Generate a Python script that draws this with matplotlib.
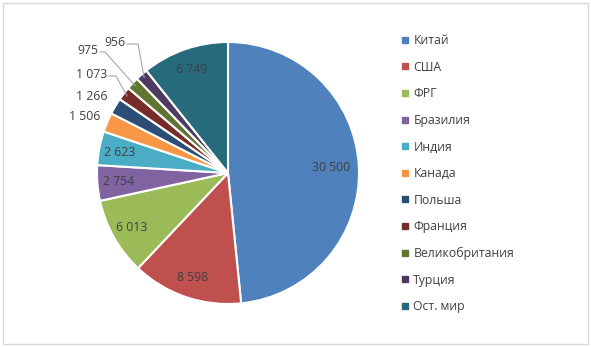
import numpy as np
import matplotlib
matplotlib.use('Agg')
from matplotlib import pyplot as plt
from matplotlib.lines import Line2D
from matplotlib.patches import Rectangle

plt.rcParams['font.family'] = ['Open Sans', 'DejaVu Sans']

countries = ['Китай', 'США', 'ФРГ', 'Бразилия', 'Индия', 'Канада',
             'Польша', 'Франция', 'Великобритания', 'Турция', 'Ост. мир']
values = [30500, 8598, 6013, 2754, 2623, 1506, 1266, 1073, 975, 956, 6749]
colors = ['#4F81BD', '#C0504D', '#9BBB59', '#8064A2', '#4BACC6', '#F79646',
          '#2C4D75', '#772C2A', '#5F7530', '#4D3B62', '#276A7C']
labels = ['{:,}'.format(v).replace(',', ' ') for v in values]

W, H = 591, 347
fig = plt.figure(figsize=(W/100, H/100), dpi=100)
# chart area border
fig.patches.append(Rectangle((3/W, 3/H), 1-6/W, 1-6/H, transform=fig.transFigure,
                             fill=False, edgecolor='#d9d9d9', linewidth=1))

cx, cy, r = 228, 173, 131
ax = fig.add_axes([(cx-r)/W, (H-cy-r)/H, 2*r/W, 2*r/H])
wedges, _ = ax.pie(values, colors=colors, startangle=90, counterclock=False,
                   wedgeprops=dict(edgecolor='white', linewidth=1.5))
ax.set_xlim(-1, 1)
ax.set_ylim(-1, 1)
ax.set_aspect('auto')

def px2data(px, py):
    return (px-cx)/r, (cy-py)/r

txtc = '#404040'
fs = 8.8
# outer labels: right end of text (px), y (px), elbow length (px) or None
outer = {5: (100, 117, None), 6: (107, 96, None), 7: (107, 75, 7),
         8: (98, 51, 5), 9: (125, 43, 11)}
for i, w in enumerate(wedges):
    mid = np.deg2rad((w.theta1 + w.theta2) / 2)
    if i in outer:
        tx, ty, elbow = outer[i]
        xt, yt = px2data(tx, ty)
        ax.text(xt, yt, labels[i], ha='right', va='center', fontsize=fs, color=txtc)
        if elbow:
            x0, y0 = px2data(tx + 2, ty + 1)
            x1, y1 = px2data(tx + 2 + elbow, ty + 1)
            ax.plot([x0, x1, np.cos(mid)*0.97], [y0, y1, np.sin(mid)*0.97],
                    color='#a6a6a6', lw=0.8)
    else:
        d = 0.79 if i == 0 else 0.84
        ax.text(np.cos(mid)*d, np.sin(mid)*d, labels[i], ha='center', va='center',
                fontsize=fs, color=txtc)

handles = [Line2D([], [], marker='s', linestyle='none', markersize=4.5,
                  markerfacecolor=c, markeredgecolor=c) for c in colors]
fig.legend(handles, countries, loc='upper left', bbox_to_anchor=(395/W, 1-28/H),
           frameon=False, fontsize=fs, labelcolor=txtc, handlelength=0.6,
           handletextpad=0.4, labelspacing=1.11, borderpad=0)

fig.savefig('out.png', dpi=100)
